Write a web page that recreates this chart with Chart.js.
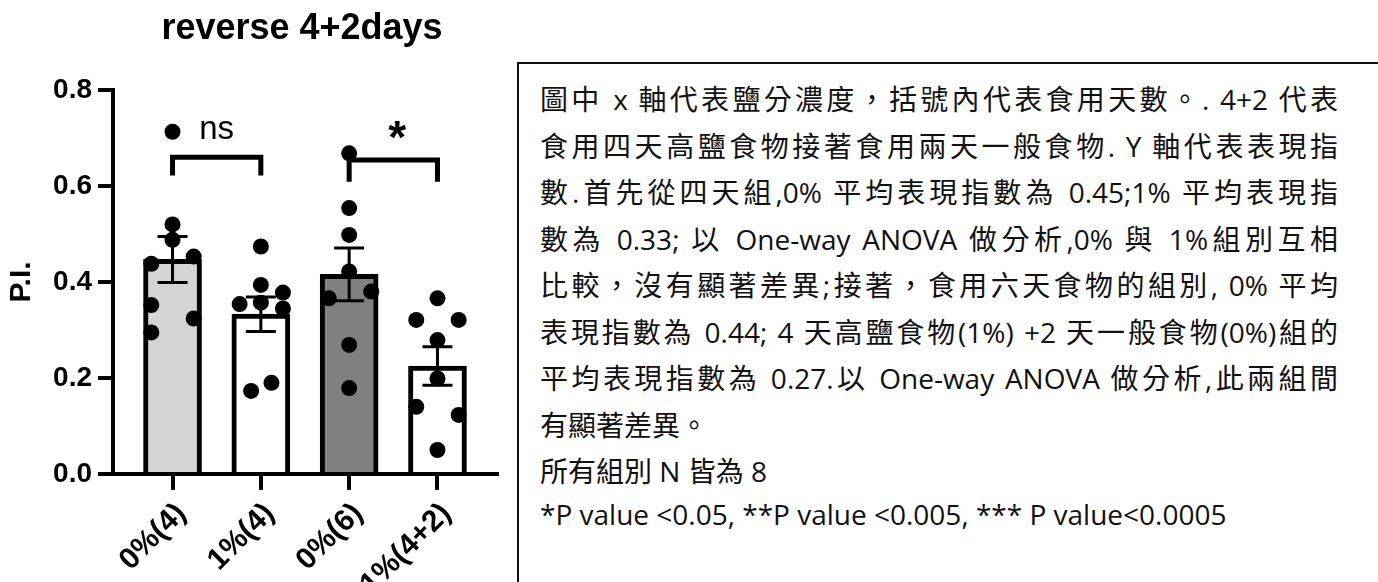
<!DOCTYPE html>
<html>
<head>
<meta charset="utf-8">
<title>reverse 4+2days</title>
<script src="https://cdn.jsdelivr.net/npm/chart.js@4.4.1/dist/chart.umd.min.js"></script>
<style>
  html, body { margin: 0; padding: 0; background: #fff; overflow: hidden; }
  #plot { position: absolute; left: 0; top: 0; }
  #note {
    position: absolute; left: 517px; top: 62px; width: 900px; height: 600px;
    box-sizing: border-box; border: 2px solid #111; padding: 12px 0 0 21px;
    font-family: "Open Sans", "Noto Sans CJK TC", sans-serif; font-size: 28px; color: #111;
  }
  #note div { white-space: pre; height: 46.5px; line-height: 46.5px; }
  #note div.just {
    white-space: nowrap; width: 798px;
    text-align: justify; text-align-last: justify;
  }
  #note div.foot { height: 39.5px; line-height: 39.5px; }
</style>
</head>
<body>
<canvas id="plot" width="505" height="600"></canvas>
<div id="note">
  <div class="just">圖中 x 軸代表鹽分濃度，括號內代表食用天數。. 4+2 代表</div>
  <div class="just">食用四天高鹽食物接著食用兩天一般食物. Y 軸代表表現指</div>
  <div class="just">數.首先從四天組,0%  平均表現指數為  0.45;1%  平均表現指</div>
  <div class="just">數為  0.33;  以 One-way ANOVA 做分析,0%  與  1%組別互相</div>
  <div class="just">比較，沒有顯著差異;接著，食用六天食物的組別, 0%  平均</div>
  <div class="just">表現指數為  0.44; 4 天高鹽食物(1%) +2 天一般食物(0%)組的</div>
  <div class="just">平均表現指數為  0.27.以 One-way ANOVA 做分析,此兩組間</div>
  <div>有顯著差異。</div>
  <div>所有組別 N 皆為 8</div>
  <div class="foot">*P value &lt;0.05, **P value &lt;0.005, *** P value&lt;0.0005</div>
</div>
<script>
// --- data ---
const groups = ['0%(4)', '1%(4)', '0%(6)', '1%(4+2)'];
const meanPI = [0.447, 0.333, 0.416, 0.225];
const semPI = [0.048, 0.036, 0.055, 0.040];

// individual flies, one row per group
const piValues = [
  [0.713, 0.520, 0.488, 0.438, 0.453, 0.352, 0.324, 0.295],
  [0.474, 0.394, 0.378, 0.354, 0.357, 0.345, 0.173, 0.190],
  [0.668, 0.554, 0.498, 0.422, 0.366, 0.380, 0.269, 0.179],
  [0.366, 0.321, 0.321, 0.279, 0.199, 0.140, 0.123, 0.050]
];
// horizontal spread of the dots inside each column
const jitter = [
  [0, 0, 0, -0.24, 0.24, -0.24, 0.24, -0.24],
  [0, 0, 0.25, -0.24, 0, 0.25, -0.11, 0.12],
  [0, 0, 0, 0, -0.23, 0.25, 0, 0],
  [0, -0.24, 0.24, 0, 0, -0.24, 0.24, 0]
];

// significance brackets
const comparisons = [
  { a: 0, b: 1, top: 0.660, foot: 0.622, labelY: 0.698, text: 'ns' },
  { a: 2, b: 3, top: 0.654, foot: 0.609, labelY: 0.668, text: '*' }
];

const barColors = ['#d4d4d4', '#ffffff', '#808080', '#ffffff'];
const FONT = '"Liberation Sans", Arial, Helvetica, sans-serif';

// --- plugins ---
const errorBars = {
  id: 'errorBars',
  afterDatasetDraw(chart, args) {
    if (args.index !== 0) return;
    const { ctx, scales: { x, y } } = chart;
    ctx.save();
    ctx.strokeStyle = '#000';
    ctx.lineWidth = 3;
    meanPI.forEach((m, i) => {
      const px = x.getPixelForValue(i);
      const hi = y.getPixelForValue(m + semPI[i]);
      const lo = y.getPixelForValue(m - semPI[i]);
      ctx.beginPath();
      ctx.moveTo(px, hi); ctx.lineTo(px, lo);
      ctx.moveTo(px - 15, hi); ctx.lineTo(px + 15, hi);
      ctx.moveTo(px - 15, lo); ctx.lineTo(px + 15, lo);
      ctx.stroke();
    });
    ctx.restore();
  }
};

const labels = {
  id: 'labels',
  afterDraw(chart) {
    const { ctx, chartArea, scales: { x, y } } = chart;
    ctx.save();
    ctx.fillStyle = '#000';
    ctx.textAlign = 'center';
    ctx.textBaseline = 'alphabetic';
    ctx.font = 'bold 36px ' + FONT;
    ctx.fillText('reverse 4+2days', (chartArea.left + chartArea.right) / 2 - 3, 39);
    comparisons.forEach(c => {
      const cx = (x.getPixelForValue(c.a) + x.getPixelForValue(c.b)) / 2;
      ctx.font = (c.text === '*' ? 'bold 46px ' : '33px ') + FONT;
      ctx.fillText(c.text, cx + (c.text === '*' ? 4 : 0), y.getPixelForValue(c.labelY));
    });
    ctx.restore();
  }
};

// --- datasets ---
const barSet = {
  type: 'bar',
  data: meanPI.map((m, i) => ({ x: i, y: m })),
  backgroundColor: barColors,
  borderColor: '#000',
  borderWidth: 5,
  borderSkipped: 'start',
  barThickness: 58,
  order: 3
};

const dotSet = {
  type: 'scatter',
  data: piValues.flatMap((vals, g) => vals.map((v, k) => ({ x: g + jitter[g][k], y: v }))),
  backgroundColor: '#000',
  borderWidth: 0,
  pointRadius: 8,
  order: 1
};

const bracketSets = comparisons.map(c => ({
  type: 'line',
  data: [
    { x: c.a, y: c.foot }, { x: c.a, y: c.top },
    { x: c.b, y: c.top }, { x: c.b, y: c.foot }
  ],
  borderColor: '#000',
  borderWidth: 5,
  borderJoinStyle: 'miter',
  pointRadius: 0,
  fill: false,
  tension: 0,
  order: 2
}));

const axisGrid = (len) => ({
  display: true,
  drawOnChartArea: false,
  drawTicks: true,
  tickLength: len,
  tickWidth: 4,
  tickColor: '#000',
  lineWidth: 4,
  color: '#000',
  offset: false
});

new Chart(document.getElementById('plot'), {
  type: 'bar',
  data: { datasets: [barSet, dotSet, ...bracketSets] },
  options: {
    responsive: false,
    animation: false,
    events: [],
    layout: { padding: { top: 90, right: 5, left: 0, bottom: 0 } },
    plugins: { legend: { display: false }, tooltip: { enabled: false }, title: { display: false } },
    scales: {
      x: {
        type: 'linear',
        min: -0.674,
        max: 3.674,
        offset: false,
        grid: axisGrid(16),
        border: { display: true, width: 4, color: '#000' },
        afterBuildTicks: s => { s.ticks = groups.map((_, i) => ({ value: i })); },
        afterFit: s => { s.height = 126; },
        ticks: {
          autoSkip: false,
          minRotation: 45,
          maxRotation: 45,
          padding: 6,
          labelOffset: 9,
          color: '#000',
          font: { family: FONT, size: 30, weight: 'bold' },
          callback: v => groups[v]
        }
      },
      y: {
        min: 0,
        max: 0.8,
        grid: axisGrid(15),
        border: { display: true, width: 4, color: '#000' },
        afterFit: s => { s.width = 113; },
        ticks: {
          stepSize: 0.2,
          padding: 6,
          color: '#000',
          font: { family: FONT, size: 28, weight: 'bold' },
          callback: v => v.toFixed(1)
        },
        title: {
          display: true,
          text: 'P.I.',
          color: '#000',
          padding: { top: 4, bottom: 0 },
          font: { family: FONT, size: 30, weight: 'bold' }
        }
      }
    }
  },
  plugins: [errorBars, labels]
});
</script>
</body>
</html>
